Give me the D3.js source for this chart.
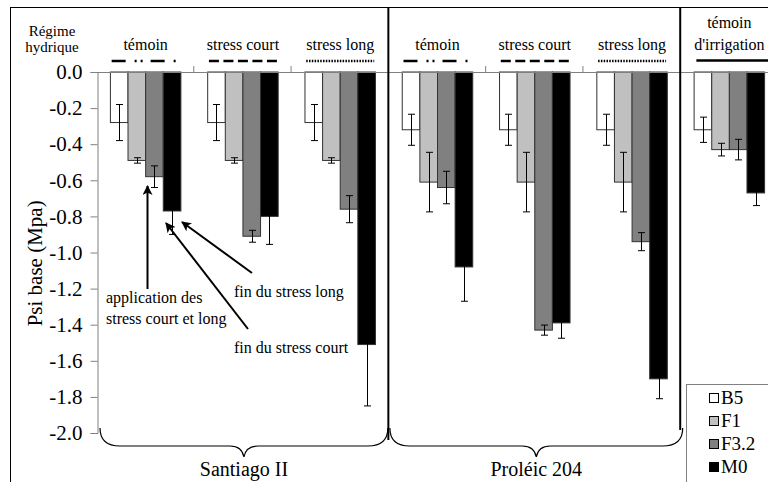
<!DOCTYPE html>
<html>
<head>
<meta charset="utf-8">
<script src="https://cdn.jsdelivr.net/npm/d3@7"></script>
<style>
  body { margin: 0; background: #fff; }
  svg { display: block; font-family: "Liberation Serif", "DejaVu Serif", serif; }
</style>
</head>
<body>
<div id="chart"></div>
<script>
// regimes (one per column) and the variety groups they belong to
const regimes = ["témoin", "stress court", "stress long", "témoin", "stress court", "stress long", "témoin d'irrigation"];
const regimeDash = ["14,9,2,4,2,8", "10,4.5", "1.5,1.3", "14,9,2,4,2,8", "10,4.5", "1.5,1.3", null];
const varieties = ["Santiago II", "Proléic 204"];
const varietyCols = [[0, 2], [3, 5]];

const series = ["B5", "F1", "F3.2", "M0"];
const colors = ["#ffffff", "#c0c0c0", "#808080", "#000000"];

// Psi base (Mpa)
const b5 = [-0.28, -0.28, -0.28, -0.32, -0.32, -0.32, -0.32];
const f1 = [-0.49, -0.49, -0.49, -0.61, -0.61, -0.61, -0.43];
const f32 = [-0.58, -0.91, -0.76, -0.64, -1.43, -0.94, -0.43];
const m0 = [-0.77, -0.80, -1.51, -1.08, -1.39, -1.70, -0.67];

const b5Err = [0.10, 0.10, 0.10, 0.086, 0.086, 0.086, 0.07];
const f1Err = [0.015, 0.015, 0.015, 0.165, 0.165, 0.165, 0.035];
const f32Err = [0.06, 0.033, 0.075, 0.09, 0.028, 0.05, 0.057];
const m0Err = [0.13, 0.155, 0.34, 0.19, 0.085, 0.11, 0.07];

const yTickValues = [0, -0.2, -0.4, -0.6, -0.8, -1.0, -1.2, -1.4, -1.6, -1.8, -2.0];
const yTickLabels = ["0.0", "-0.2", "-0.4", "-0.6", "-0.8", "-1.0", "-1.2", "-1.4", "-1.6", "-1.8", "-2.0"];

const values = [b5, f1, f32, m0];
const errors = [b5Err, f1Err, f32Err, m0Err];

const W = 768, H = 482;
const svg = d3.select('#chart').append('svg')
    .attr('width', W)
    .attr('height', H);

// outer frame (cut by the picture on the right and bottom)
svg.append('rect')
    .attr('x', 10.5).attr('y', 7.5)
    .attr('width', 820).attr('height', 520)
    .attr('fill', 'none')
    .attr('stroke', '#000');

// scales
const xCat = d3.scaleBand()
    .domain(d3.range(regimes.length))
    .range([97, 778]);

const xSer = d3.scaleBand()
    .domain(series)
    .range([0, xCat.bandwidth()])
    .paddingOuter(0.76);

const y = d3.scaleLinear()
    .domain([0, -2])
    .range([72, 433]);

// y axis
const yAxis = svg.append('g')
    .attr('transform', 'translate(97.5,0)')
    .call(d3.axisLeft(y)
        .tickValues(yTickValues)
        .tickFormat((d, i) => yTickLabels[i])
        .tickSize(7)
        .tickPadding(8));
yAxis.attr('font-family', null);
yAxis.select('.domain').attr('stroke', '#808080');
yAxis.selectAll('.tick line').attr('stroke', '#808080');
yAxis.selectAll('.tick text')
    .attr('font-size', 21)
    .attr('fill', '#000');

svg.append('text')
    .attr('transform', `translate(42,${(y(-0.7) + y(-1.42)) / 2}) rotate(-90)`)
    .attr('text-anchor', 'middle')
    .attr('font-size', 21)
    .text('Psi base (Mpa)');

// bars
const barData = [];
series.forEach((s, si) => {
    regimes.forEach((r, ci) => {
        barData.push({ s, si, ci, v: values[si][ci], e: errors[si][ci] });
    });
});

svg.append('g').selectAll('rect')
    .data(barData)
    .join('rect')
    .attr('x', d => xCat(d.ci) + xSer(d.s))
    .attr('y', y(0))
    .attr('width', xSer.bandwidth())
    .attr('height', d => y(d.v) - y(0))
    .attr('fill', d => colors[d.si])
    .attr('stroke', '#333')
    .attr('stroke-width', 1);

// error bars
const eb = svg.append('g')
    .attr('stroke', '#000')
    .attr('stroke-width', 1)
    .selectAll('g')
    .data(barData)
    .join('g')
    .attr('transform', d => `translate(${Math.round(xCat(d.ci) + xSer(d.s) + xSer.bandwidth() / 2) + 0.5},0)`);
eb.append('line')
    .attr('y1', d => y(d.v + d.e)).attr('y2', d => y(d.v - d.e));
eb.append('line')
    .attr('x1', -3.5).attr('x2', 3.5)
    .attr('y1', d => y(d.v + d.e)).attr('y2', d => y(d.v + d.e));
eb.append('line')
    .attr('x1', -3.5).attr('x2', 3.5)
    .attr('y1', d => y(d.v - d.e)).attr('y2', d => y(d.v - d.e));

// zero line and category ticks
svg.append('line')
    .attr('x1', 97).attr('x2', 778)
    .attr('y1', y(0) + 0.5).attr('y2', y(0) + 0.5)
    .attr('stroke', '#808080');
svg.append('g').selectAll('line')
    .data([1, 2, 4, 5])
    .join('line')
    .attr('x1', d => xCat(d) - 0.5).attr('x2', d => xCat(d) - 0.5)
    .attr('y1', y(0)).attr('y2', y(0) - 6)
    .attr('stroke', '#808080');

// group separators
svg.append('g').selectAll('line')
    .data([3, 6])
    .join('line')
    .attr('x1', d => xCat(d) - 0.5).attr('x2', d => xCat(d) - 0.5)
    .attr('y1', 7).attr('y2', d => d === 3 ? 440 : 430)
    .attr('stroke', '#000')
    .attr('stroke-width', 2);

// header: régime hydrique
svg.append('text')
    .attr('x', 52).attr('y', 36)
    .attr('text-anchor', 'middle')
    .attr('font-size', 15)
    .text('Régime');
svg.append('text')
    .attr('x', 52).attr('y', 52)
    .attr('text-anchor', 'middle')
    .attr('font-size', 15)
    .text('hydrique');

regimes.forEach((r, i) => {
    const cx = xCat(i) + xCat.bandwidth() / 2;
    if (i === 6) {
        svg.append('text').attr('x', cx).attr('y', 28)
            .attr('text-anchor', 'middle').attr('font-size', 16).text('témoin');
        svg.append('text').attr('x', cx).attr('y', 50)
            .attr('text-anchor', 'middle').attr('font-size', 16).text("d'irrigation");
        svg.append('line')
            .attr('x1', cx - 33).attr('x2', cx + 60)
            .attr('y1', 60.5).attr('y2', 60.5)
            .attr('stroke', '#000').attr('stroke-width', 2.5);
    } else {
        svg.append('text').attr('x', cx).attr('y', 50)
            .attr('text-anchor', 'middle').attr('font-size', 16).text(r);
        svg.append('line')
            .attr('x1', cx - 34).attr('x2', cx + 34)
            .attr('y1', 61).attr('y2', 61)
            .attr('stroke', '#000').attr('stroke-width', 2.5)
            .attr('stroke-dasharray', regimeDash[i]);
    }
});

// braces under each variety
function bracePath(x0, x1, yTop, yMid, yTip) {
    const c = (x0 + x1) / 2;
    return `M${x0},${yTop} Q${x0},${yMid} ${x0 + 20},${yMid} L${c - 14},${yMid} ` +
        `Q${c - 2},${yMid} ${c},${yTip} Q${c + 2},${yMid} ${c + 14},${yMid} ` +
        `L${x1 - 20},${yMid} Q${x1},${yMid} ${x1},${yTop}`;
}
varieties.forEach((v, i) => {
    const x0 = xCat(varietyCols[i][0]) + (i === 0 ? 3 : 1);
    const x1 = xCat(varietyCols[i][1]) + xCat.bandwidth() + (i === 0 ? -1 : 2);
    svg.append('path')
        .attr('d', bracePath(x0, x1, 428, 446, 457))
        .attr('fill', 'none')
        .attr('stroke', '#000')
        .attr('stroke-width', 1.2);
    svg.append('text')
        .attr('x', (x0 + x1) / 2).attr('y', 476)
        .attr('text-anchor', 'middle')
        .attr('font-size', 20)
        .text(v);
});

// annotations
svg.append('defs').append('marker')
    .attr('id', 'head')
    .attr('viewBox', '0 0 10 10')
    .attr('refX', 9).attr('refY', 5)
    .attr('markerWidth', 5).attr('markerHeight', 5)
    .attr('markerUnits', 'strokeWidth')
    .attr('orient', 'auto')
    .append('path')
    .attr('d', 'M0,0 L10,5 L0,10 L2.5,5 Z')
    .attr('fill', '#000');

const arrows = [
    { from: [147.5, 289], to: [147.5, 186] },
    { from: [252, 273], to: [182, 222] },
    { from: [248, 329], to: [166, 223] }
];
svg.append('g').selectAll('line')
    .data(arrows)
    .join('line')
    .attr('x1', d => d.from[0]).attr('y1', d => d.from[1])
    .attr('x2', d => d.to[0]).attr('y2', d => d.to[1])
    .attr('stroke', '#000')
    .attr('stroke-width', 2)
    .attr('marker-end', 'url(#head)');

const notes = [
    { x: 106, y: 303, t: 'application des' },
    { x: 106, y: 324, t: 'stress court et long' },
    { x: 234, y: 297, t: 'fin du stress long' },
    { x: 234, y: 353, t: 'fin du stress court' }
];
svg.append('g').selectAll('text')
    .data(notes)
    .join('text')
    .attr('x', d => d.x).attr('y', d => d.y)
    .attr('font-size', 16)
    .text(d => d.t);

// legend
const lg = svg.append('g');
lg.append('rect')
    .attr('x', 686.5).attr('y', 384.5)
    .attr('width', 120).attr('height', 120)
    .attr('fill', '#fff')
    .attr('stroke', '#808080');
series.forEach((s, i) => {
    lg.append('rect')
        .attr('x', 709.5).attr('y', 393.5 + i * 23)
        .attr('width', 9).attr('height', 9)
        .attr('fill', colors[i])
        .attr('stroke', '#000');
    lg.append('text')
        .attr('x', 721).attr('y', 403.5 + i * 23)
        .attr('font-size', 19)
        .text(s);
});
</script>
</body>
</html>
